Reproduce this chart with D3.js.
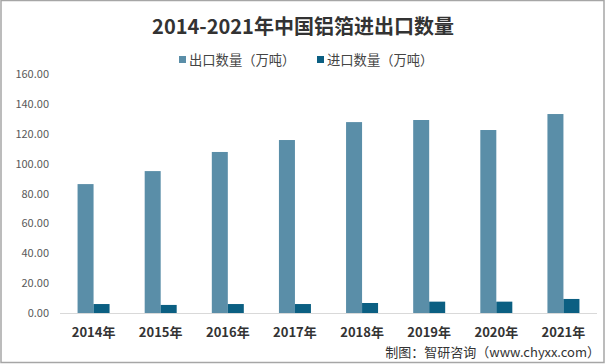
<!DOCTYPE html>
<html>
<head>
<meta charset="utf-8">
<script src="https://cdn.jsdelivr.net/npm/d3@7"></script>
<style>
  body { margin: 0; background: #fff; }
  text { font-family: "Microsoft YaHei", "Noto Sans CJK SC", sans-serif; }
</style>
</head>
<body>
<div id="chart"></div>
<script>
var years = ["2014年", "2015年", "2016年", "2017年", "2018年", "2019年", "2020年", "2021年"];
var exportVals = [86.3, 95.0, 107.8, 115.8, 127.8, 129.2, 122.5, 133.2];
var importVals = [6.0, 5.4, 6.0, 6.0, 6.7, 7.6, 7.6, 9.4];
var yTicks = [0, 20, 40, 60, 80, 100, 120, 140, 160];
var seriesNames = ["出口数量（万吨）", "进口数量（万吨）"];
var colors = ["#5a8ea8", "#0b5f82"];

var svg = d3.select("#chart").append("svg")
  .attr("width", 606)
  .attr("height", 364);

// frame
svg.append("rect")
  .attr("x", 1).attr("y", 0.5)
  .attr("width", 603).attr("height", 362)
  .attr("fill", "#fff")
  .attr("stroke", "#a6a6a6")
  .attr("stroke-width", 1.5);

var x = d3.scaleBand().domain(years).range([60, 597]);
var inner = d3.scaleBand().domain([0, 1]).range([0, 32]);
var y = d3.scaleLinear().domain([0, 160]).range([313, 74]);

// title
svg.append("text")
  .attr("x", 303).attr("y", 34)
  .attr("text-anchor", "middle")
  .style("font-size", "20px")
  .style("font-weight", "bold")
  .style("fill", "#333")
  .text("2014-2021年中国铝箔进出口数量");

// legend
var legendX = [179, 317];
seriesNames.forEach(function(name, i){
  svg.append("rect")
    .attr("x", legendX[i]).attr("y", 56)
    .attr("width", 7).attr("height", 7)
    .attr("fill", colors[i]);
  svg.append("text")
    .attr("x", legendX[i] + 10).attr("y", 64.5)
    .style("font-size", "13.3px")
    .style("fill", "#444")
    .text(name);
});

// y axis labels
svg.selectAll(".ytick")
  .data(yTicks)
  .enter().append("text")
  .attr("class", "ytick")
  .attr("x", 49).attr("y", function(d){ return y(d) + 4; })
  .attr("text-anchor", "end")
  .style("font-size", "11px")
  .style("fill", "#595959")
  .text(function(d){ return d.toFixed(2); });

// baseline
svg.append("line")
  .attr("x1", 60).attr("x2", 597)
  .attr("y1", y(0) + 0.5).attr("y2", y(0) + 0.5)
  .attr("stroke", "#d9d9d9")
  .attr("stroke-width", 1);

// bars
[exportVals, importVals].forEach(function(vals, i){
  svg.selectAll(".bar" + i)
    .data(vals)
    .enter().append("rect")
    .attr("class", "bar" + i)
    .attr("x", function(d, j){ return x(years[j]) + x.bandwidth() / 2 - 16 + inner(i); })
    .attr("y", function(d){ return y(d); })
    .attr("width", inner.bandwidth())
    .attr("height", function(d){ return y(0) - y(d); })
    .attr("fill", colors[i]);
});

// x labels
svg.selectAll(".xlab")
  .data(years)
  .enter().append("text")
  .attr("class", "xlab")
  .attr("x", function(d){ return x(d) + x.bandwidth() / 2; })
  .attr("y", 337)
  .attr("text-anchor", "middle")
  .style("font-size", "13px")
  .style("font-weight", "bold")
  .style("fill", "#333")
  .text(function(d){ return d; });

// source
svg.append("text")
  .attr("x", 600).attr("y", 357)
  .attr("text-anchor", "end")
  .style("font-size", "13px")
  .style("fill", "#333")
  .text("制图：智研咨询（www.chyxx.com）");
</script>
</body>
</html>
